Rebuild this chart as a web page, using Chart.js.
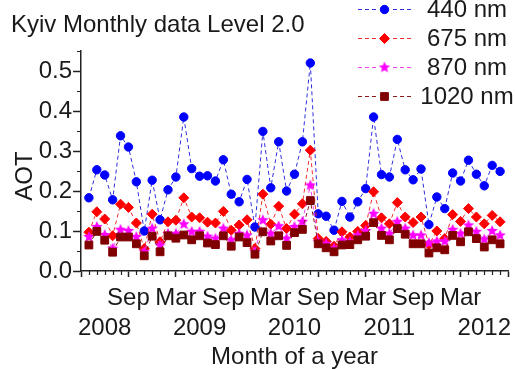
<!DOCTYPE html>
<html>
<head>
<meta charset="utf-8">
<script src="https://cdn.jsdelivr.net/npm/chart.js@4.4.1/dist/chart.umd.min.js"></script>
<style>
  html, body { margin: 0; padding: 0; background: #fff; }
</style>
</head>
<body>
<canvas id="aotChart" width="515" height="369"></canvas>
<script>
// monthly AOT, Kyiv (AERONET Level 2.0), Apr 2008 .. Aug 2012
var months = [
  "2008-04", "2008-05", "2008-06", "2008-07", "2008-08", "2008-09", "2008-10", "2008-11", "2008-12",
  "2009-01", "2009-02", "2009-03", "2009-04", "2009-05", "2009-06", "2009-07", "2009-08", "2009-09", "2009-10", "2009-11", "2009-12",
  "2010-01", "2010-02", "2010-03", "2010-04", "2010-05", "2010-06", "2010-07", "2010-08", "2010-09", "2010-10", "2010-11", "2010-12",
  "2011-01", "2011-02", "2011-03", "2011-04", "2011-05", "2011-06", "2011-07", "2011-08", "2011-09", "2011-10", "2011-11", "2011-12",
  "2012-01", "2012-02", "2012-03", "2012-04", "2012-05", "2012-06", "2012-07", "2012-08"
];

var aot440 = [0.183, 0.253, 0.240, 0.178, 0.338, 0.310, 0.223, 0.100, 0.227, 0.128,
  0.203, 0.235, 0.385, 0.256, 0.237, 0.238, 0.225, 0.278, 0.192, 0.173,
  0.229, 0.110, 0.349, 0.208, 0.323, 0.200, 0.242, 0.323, 0.520, 0.143,
  0.137, 0.102, 0.174, 0.135, 0.173, 0.206, 0.385, 0.241, 0.235, 0.329,
  0.253, 0.228, 0.255, 0.116, 0.185, 0.156, 0.245, 0.225, 0.277, 0.242,
  0.213, 0.264, 0.249];
var aot675 = [0.097, 0.148, 0.130, 0.088, 0.167, 0.159, 0.120, 0.056, 0.142, 0.073,
  0.123, 0.127, 0.183, 0.135, 0.133, 0.122, 0.120, 0.149, 0.102, 0.115,
  0.128, 0.056, 0.192, 0.117, 0.162, 0.106, 0.142, 0.168, 0.302, 0.081,
  0.074, 0.062, 0.098, 0.085, 0.099, 0.114, 0.198, 0.133, 0.118, 0.171,
  0.135, 0.121, 0.135, 0.066, 0.100, 0.081, 0.141, 0.124, 0.156, 0.135,
  0.118, 0.139, 0.123];
var aot870 = [0.085, 0.110, 0.090, 0.056, 0.103, 0.100, 0.085, 0.048, 0.106, 0.064,
  0.093, 0.093, 0.117, 0.098, 0.098, 0.086, 0.081, 0.106, 0.077, 0.093,
  0.089, 0.048, 0.127, 0.093, 0.112, 0.081, 0.110, 0.123, 0.214, 0.073,
  0.068, 0.056, 0.077, 0.073, 0.089, 0.100, 0.143, 0.106, 0.093, 0.123,
  0.106, 0.089, 0.089, 0.070, 0.074, 0.074, 0.103, 0.093, 0.114, 0.098,
  0.079, 0.100, 0.089];
var aot1020 = [0.065, 0.099, 0.077, 0.047, 0.085, 0.085, 0.068, 0.038, 0.087, 0.048,
  0.088, 0.082, 0.090, 0.078, 0.088, 0.070, 0.066, 0.088, 0.062, 0.085,
  0.071, 0.042, 0.098, 0.075, 0.088, 0.064, 0.096, 0.104, 0.176, 0.068,
  0.058, 0.048, 0.065, 0.066, 0.078, 0.087, 0.121, 0.089, 0.078, 0.106,
  0.092, 0.068, 0.068, 0.045, 0.058, 0.053, 0.089, 0.073, 0.098, 0.081,
  0.060, 0.078, 0.068];

var seriesNames = ["440 nm", "675 nm", "870 nm", "1020 nm"];

// x axis: major ticks every 6 months, year labels sit mid-way (June)
var tickMonths = ["2008-03", "2008-09", "2009-03", "2009-09", "2010-03", "2010-09", "2011-03", "2011-09", "2012-03", "2012-09"];
var tickLabels = ["", "Sep", "Mar", "Sep", "Mar", "Sep", "Mar", "Sep", "Mar", ""];
var yearMonths = ["2008-06", "2009-06", "2010-06", "2011-06", "2012-06"];
var yearLabels = ["2008", "2009", "2010", "2011", "2012"];
var yTicks = [0, 0.1, 0.2, 0.3, 0.4, 0.5];
var yTickLabels = ["0.0", "0.1", "0.2", "0.3", "0.4", "0.5"];

// month number counted from Jan 2008
function monthIndex(s) {
    var p = s.split("-");
    return (+p[0] - 2008) * 12 + (+p[1] - 1);
}
function points(vals) {
    return vals.map(function (v, i) { return { x: monthIndex(months[i]), y: v }; });
}

// filled 5-point star for the 870 nm series
function starImage(color, r) {
    var s = Math.ceil(r * 2) + 2;
    var c = document.createElement("canvas");
    c.width = s; c.height = s;
    var g = c.getContext("2d");
    g.fillStyle = color;
    g.beginPath();
    for (var k = 0; k < 10; k++) {
        var rad = k % 2 ? r * 0.45 : r;
        var a = -Math.PI / 2 + k * Math.PI / 5;
        g.lineTo(s / 2 + rad * Math.cos(a), s / 2 + rad * Math.sin(a));
    }
    g.closePath();
    g.fill();
    return c;
}

var textColor = "#1a1a1a";
var axisColor = "#222222";
var fontFamily = "'Liberation Sans', Arial, sans-serif";
var star = starImage("#ff00ff", 6);

Chart.defaults.font.family = fontFamily;
Chart.defaults.font.size = 24;
Chart.defaults.color = textColor;

var xMin = monthIndex("2008-03");
var xMax = monthIndex("2012-09");

// title, legend, y title and minor ticks
var decorPlugin = {
    id: "decor",
    afterDraw: function (chart) {
        var ctx = chart.ctx;
        var sx = chart.scales.x, sy = chart.scales.y, area = chart.chartArea;
        ctx.save();

        // minor ticks
        ctx.strokeStyle = axisColor;
        ctx.lineWidth = 1.2;
        ctx.beginPath();
        for (var m = xMin + 1; m < xMax; m++) {
            if ((m - xMin) % 6 === 0) continue;
            var px = Math.round(sx.getPixelForValue(m)) + 0.5;
            ctx.moveTo(px, area.bottom);
            ctx.lineTo(px, area.bottom + 4);
        }
        for (var v = 0.05; v < 0.56; v += 0.1) {
            var py = Math.round(sy.getPixelForValue(v)) + 0.5;
            ctx.moveTo(area.left, py);
            ctx.lineTo(area.left - 4, py);
        }
        ctx.stroke();

        ctx.fillStyle = textColor;
        ctx.font = "24px " + fontFamily;
        ctx.textBaseline = "alphabetic";
        ctx.textAlign = "left";
        ctx.fillText("Kyiv Monthly data Level 2.0", 11, 31.5);

        // y axis title
        ctx.save();
        ctx.translate(25, 176);
        ctx.rotate(-Math.PI / 2);
        ctx.textAlign = "center";
        ctx.textBaseline = "middle";
        ctx.fillText("AOT", 0, 0);
        ctx.restore();

        // legend
        chart.data.datasets.forEach(function (ds, i) {
            var ly = 9.5 + i * 29;
            ctx.strokeStyle = ds.borderColor;
            ctx.lineWidth = 1;
            ctx.setLineDash([4, 3]);
            ctx.beginPath();
            ctx.moveTo(358, ly); ctx.lineTo(376, ly);
            ctx.moveTo(393, ly); ctx.lineTo(411, ly);
            ctx.stroke();
            ctx.setLineDash([]);
            ctx.fillStyle = ds.pointBackgroundColor;
            ctx.strokeStyle = ds.pointBorderColor;
            Chart.helpers.drawPoint(ctx, {
                pointStyle: ds.pointStyle, radius: ds.pointRadius, rotation: 0, borderWidth: 1
            }, 384.5, ly);
            ctx.fillStyle = textColor;
            ctx.textAlign = "center";
            ctx.textBaseline = "middle";
            ctx.fillText(ds.label, 467, ly + 1);
        });
        ctx.restore();
    }
};

var ctx = document.getElementById("aotChart").getContext("2d");

new Chart(ctx, {
    type: "line",
    data: {
        datasets: [{
            label: seriesNames[0],
            data: points(aot440),
            borderColor: "#2f2fe0",
            pointBackgroundColor: "#0000ff",
            pointBorderColor: "#0000ff",
            pointStyle: "circle",
            pointRadius: 4.2,
            order: 4
        }, {
            label: seriesNames[1],
            data: points(aot675),
            borderColor: "#f03030",
            pointBackgroundColor: "#ff0000",
            pointBorderColor: "#ff0000",
            pointStyle: "rectRot",
            pointRadius: 5,
            order: 3
        }, {
            label: seriesNames[2],
            data: points(aot870),
            borderColor: "#f040f0",
            pointBackgroundColor: "#ff00ff",
            pointBorderColor: "#ff00ff",
            pointStyle: star,
            pointRadius: 6,
            order: 2
        }, {
            label: seriesNames[3],
            data: points(aot1020),
            borderColor: "#8a1a1a",
            pointBackgroundColor: "#800000",
            pointBorderColor: "#800000",
            pointStyle: "rect",
            pointRadius: 5.5,
            order: 1
        }]
    },
    options: {
        responsive: false,
        devicePixelRatio: 1,
        animation: false,
        layout: { padding: { top: 51, right: 5, left: 0, bottom: 0 } },
        datasets: {
            line: {
                borderWidth: 1,
                borderDash: [4, 3],
                tension: 0,
                fill: false,
                pointBorderWidth: 1
            }
        },
        plugins: {
            legend: { display: false },
            tooltip: { enabled: false }
        },
        scales: {
            x: {
                type: "linear",
                position: "bottom",
                weight: 0,
                min: xMin,
                max: xMax,
                afterBuildTicks: function (s) {
                    s.ticks = tickMonths.map(function (m) { return { value: monthIndex(m) }; });
                },
                ticks: {
                    autoSkip: false,
                    maxRotation: 0,
                    padding: 7,
                    callback: function (v, i) { return tickLabels[i]; }
                },
                grid: { drawOnChartArea: false, tickLength: 6, tickWidth: 1.5, tickColor: axisColor },
                border: { color: axisColor, width: 1.5 },
                afterFit: function (s) { s.height = 41; }
            },
            xYear: {
                type: "linear",
                position: "bottom",
                weight: 1,
                min: xMin,
                max: xMax,
                afterBuildTicks: function (s) {
                    s.ticks = yearMonths.map(function (m) { return { value: monthIndex(m) }; });
                },
                ticks: {
                    autoSkip: false,
                    maxRotation: 0,
                    padding: 2,
                    callback: function (v, i) { return yearLabels[i]; }
                },
                grid: { display: false, drawTicks: false },
                border: { display: false },
                title: {
                    display: true,
                    text: "Month of a year",
                    padding: 0,
                    font: { size: 24, lineHeight: 1 }
                },
                afterFit: function (s) { s.height = 57; }
            },
            y: {
                min: 0,
                max: 0.55,
                afterBuildTicks: function (s) {
                    s.ticks = yTicks.map(function (v) { return { value: v }; });
                },
                ticks: {
                    padding: 1,
                    callback: function (v, i) { return yTickLabels[i]; }
                },
                grid: { drawOnChartArea: false, tickLength: 8, tickWidth: 1.5, tickColor: axisColor },
                border: { color: axisColor, width: 1.5 },
                afterFit: function (s) { s.width = 81; }
            }
        }
    },
    plugins: [decorPlugin]
});
</script>
</body>
</html>
